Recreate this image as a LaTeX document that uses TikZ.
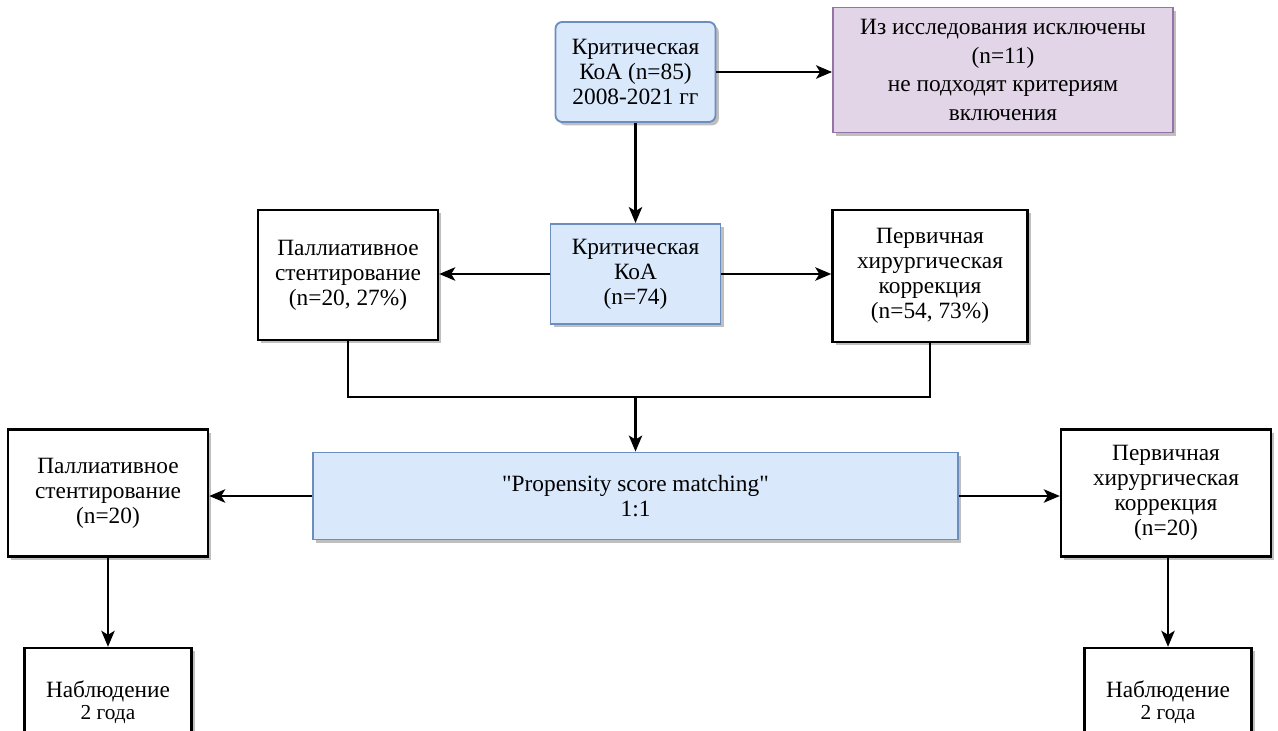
\documentclass[tikz,border=0pt]{standalone}
\usepackage{fontspec}
\setmainfont{Liberation Serif}
\newfontfamily\qfont{Liberation Serif}[Ligatures=TeXOff]
\usetikzlibrary{arrows.meta,shadows}
\definecolor{bluefill}{HTML}{DAE8FC}
\definecolor{blueline}{HTML}{6C8EBF}
\definecolor{purplefill}{HTML}{E1D5E7}
\definecolor{purpleline}{HTML}{9673A6}
\tikzset{
  box/.style={draw=black, line width=1.8pt, fill=white, align=center, inner sep=2pt,
    font=\fontsize{17.5}{18.8}\selectfont,
    drop shadow={shadow xshift=2.5pt, shadow yshift=-2.5pt, fill=black, opacity=0.25}},
  bluebox/.style={box, draw=blueline, fill=bluefill, line width=1.4pt},
  purplebox/.style={box, draw=purpleline, fill=purplefill, line width=1.4pt},
  conn/.style={line width=1.8pt, -{Stealth[length=12pt,width=10pt,inset=3pt]}},
  plain/.style={line width=1.8pt}
}
\begin{document}
\begin{tikzpicture}[x=0.75pt,y=-0.75pt]
\useasboundingbox (0,0) rectangle (1278,731);
\clip (0,0) rectangle (1278,731);
\node[bluebox, rounded corners=5pt, minimum width=160*0.75pt, minimum height=100*0.75pt] (A) at (635.5,72)
  {Критическая\\КоА (n=85)\\2008-2021 гг};
\node[purplebox, minimum width=340*0.75pt, minimum height=125*0.75pt,
  font=\fontsize{17.5}{21.5}\selectfont] (B) at (1003,70)
  {Из исследования исключены\\(n=11)\\не подходят критериям\\включения};
\node[bluebox, minimum width=170*0.75pt, minimum height=100*0.75pt] (C) at (635.5,274)
  {Критическая\\КоА\\(n=74)};
\node[box, minimum width=180*0.75pt, minimum height=130*0.75pt] (L1) at (348,275)
  {Паллиативное\\стентирование\\(n=20, 27\%)};
\node[box, minimum width=195*0.75pt, minimum height=132*0.75pt] (R1) at (930,276)
  {Первичная\\хирургическая\\коррекция\\(n=54, 73\%)};
\node[bluebox, minimum width=645*0.75pt, minimum height=87*0.75pt] (P) at (635.5,496)
  {{\qfont"}Propensity score matching{\qfont"}\\1:1};
\node[box, minimum width=200*0.75pt, minimum height=127*0.75pt] (L2) at (108,493)
  {Паллиативное\\стентирование\\(n=20)};
\node[box, minimum width=210*0.75pt, minimum height=127*0.75pt] (R2) at (1166,493)
  {Первичная\\хирургическая\\коррекция\\(n=20)};
\node[box, minimum width=167*0.75pt, minimum height=108*0.75pt] (L3) at (108,702)
  {Наблюдение\\[-2pt]{\fontsize{16}{17}\selectfont 2 года}};
\node[box, minimum width=167*0.75pt, minimum height=108*0.75pt] (R3) at (1168,702)
  {Наблюдение\\[-2pt]{\fontsize{16}{17}\selectfont 2 года}};
\coordinate (m) at (635.5,397);
\draw[conn] (A.east) -- (B.west |- A.east);
\draw[conn] (A.south) -- (C.north);
\draw[conn] (C.west) -- (L1.east |- C.west);
\draw[conn] (C.east) -- (R1.west |- C.east);
\draw[plain] (L1.south) -- (L1.south |- m) -- (R1.south |- m) -- (R1.south);
\draw[conn] (m) -- (P.north);
\draw[conn] (P.west) -- (L2.east |- P.west);
\draw[conn] (P.east) -- (R2.west |- P.east);
\draw[conn] (L2.south) -- (L3.north);
\draw[conn] (R2.south -| R3.north) -- (R3.north);
\end{tikzpicture}
\end{document}
